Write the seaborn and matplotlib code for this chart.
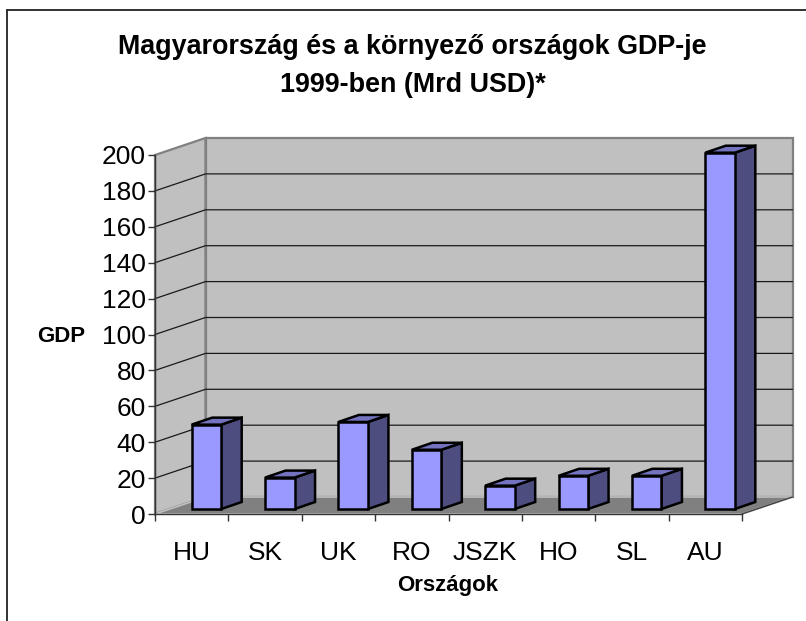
import matplotlib
matplotlib.use("Agg")
import matplotlib.pyplot as plt
from matplotlib.patches import Polygon, Rectangle
import pandas as pd
import seaborn as sns

categories = ["HU", "SK", "UK", "RO", "JSZK", "HO", "SL", "AU"]
gdp_values = [47, 17.5, 48.5, 33, 13, 18.5, 18.5, 198.5]
y_ticks = list(range(0, 201, 20))

title_lines = ["Magyarország és a környező országok GDP-je", "1999-ben (Mrd USD)*"]
x_label = "Országok"
y_label = "GDP"

sns.set_theme(style="white")
plt.rcParams["font.family"] = ["Liberation Sans", "DejaVu Sans"]
plt.rcParams["text.color"] = "black"
plt.rcParams["ytick.labelcolor"] = "black"

W, H = 806, 621
FRONT_L, FRONT_R, FRONT_T, FRONT_B = 155, 742, 155, 514
DEPTH_X, DEPTH_Y = 50.5, 17
BAR_SHIFT_X, BAR_SHIFT_Y = 14.75, 5
BAR_DEPTH_X, BAR_DEPTH_Y = 20.5, 7
WALL, FLOOR, EDGE = "#C0C0C0", "#808080", "#808080"
FACE, SIDE, TOP = "#9999FF", "#4D4D80", "#7373BF"


def axes_rect(left, right, top, bottom):
    return [left / W, 1 - bottom / H, (right - left) / W, (bottom - top) / H]


fig = plt.figure(figsize=(W / 100, H / 100), dpi=100, facecolor="white")
ax = fig.add_axes(axes_rect(FRONT_L, FRONT_R, FRONT_T, FRONT_B))
ax.set_facecolor("none")
ax.set_xlim(-0.5, len(categories) - 0.5)
ax.set_ylim(0, y_ticks[-1])

ux = (FRONT_R - FRONT_L) / len(categories)
uy = (FRONT_B - FRONT_T) / y_ticks[-1]
dx, dy = DEPTH_X / ux, DEPTH_Y / uy
x0, x1 = -0.5, len(categories) - 0.5
ymax = y_ticks[-1]

# Walls and floor
ax.add_patch(Polygon([(x0, 0), (x0 + dx, dy), (x0 + dx, ymax + dy), (x0, ymax)],
                     fc=WALL, ec=EDGE, lw=1.6, clip_on=False, zorder=1))
ax.add_patch(Rectangle((x0 + dx, dy), x1 - x0, ymax, fc=WALL, ec=EDGE, lw=1.6,
                       clip_on=False, zorder=1))
ax.add_patch(Polygon([(x0, 0), (x1, 0), (x1 + dx, dy), (x0 + dx, dy)],
                     fc=FLOOR, ec=WALL, lw=1.2, clip_on=False, zorder=2))
for v in y_ticks[1:-1]:
    ax.plot([x0, x0 + dx, x1 + dx], [v, v + dy, v + dy], color="#1a1a1a", lw=0.9,
            clip_on=False, zorder=3, solid_joinstyle="miter")
ax.plot([x1, x1 + dx], [0, dy], color="#404040", lw=1, clip_on=False, zorder=3)

# Axes
for s in ("top", "right"):
    ax.spines[s].set_visible(False)
for s in ("left", "bottom"):
    ax.spines[s].set_color("#333333")
    ax.spines[s].set_linewidth(1)
    ax.spines[s].set_zorder(6)
ax.set_yticks(y_ticks)
ax.set_xticks([i - 0.5 for i in range(len(categories) + 1)])
ax.set_xticklabels([])
ax.tick_params(axis="both", which="both", length=5, width=1, color="#333333",
               bottom=True, left=True)
ax.tick_params(axis="y", labelsize=19, pad=1.5, labelcolor="black")
ax.set_axisbelow(False)

for i, c in enumerate(categories):
    ax.annotate(c, (i, 0), xytext=(0, -26 * 0.72 - 0.5), textcoords="offset points", ha="center",
                va="top", fontsize=19, color="black")

# Bars: the front faces sit part-way into the depth of the floor
bar_ax = fig.add_axes(axes_rect(FRONT_L + BAR_SHIFT_X, FRONT_R + BAR_SHIFT_X,
                                FRONT_T - BAR_SHIFT_Y, FRONT_B - BAR_SHIFT_Y))
bar_ax.set_facecolor("none")
df = pd.DataFrame({"country": categories, "gdp": gdp_values})
sns.barplot(data=df, x="country", y="gdp", ax=bar_ax, color=FACE, saturation=1,
            width=29.5 / ux, edgecolor="black", linewidth=1.8, zorder=5)
bar_ax.set_xlim(x0, x1)
bar_ax.set_ylim(0, ymax)
bar_ax.axis("off")

bdx, bdy = BAR_DEPTH_X / ux, BAR_DEPTH_Y / uy
for p in list(bar_ax.patches):
    l, b, w, h = p.get_x(), p.get_y(), p.get_width(), p.get_height()
    r, t = l + w, b + h
    style = dict(ec="black", lw=1.8, clip_on=False, zorder=4, joinstyle="miter")
    bar_ax.add_patch(Polygon([(r, b), (r + bdx, b + bdy), (r + bdx, t + bdy), (r, t)], fc=SIDE, **style))
    bar_ax.add_patch(Polygon([(l, t), (r, t), (r + bdx, t + bdy), (l + bdx, t + bdy)], fc=TOP, **style))
    p.set_clip_on(False)

# Chart frame and texts
fig.add_artist(plt.Line2D([7 / W, 7 / W], [0, 1 - 10 / H], color="#222222", lw=1.3))
fig.add_artist(plt.Line2D([7 / W, 1], [1 - 10 / H, 1 - 10 / H], color="#222222", lw=1.3))
for line, yc in zip(title_lines, (47, 85)):
    fig.text(412.5 / W, 1 - yc / H, line, ha="center", va="center", fontsize=19.4,
             fontweight="bold", color="black")
fig.text(448 / W, 1 - 586 / H, x_label, ha="center", va="center", fontsize=16, fontweight="bold", color="black")
fig.text(61.5 / W, 1 - 336 / H, y_label, ha="center", va="center", fontsize=16, fontweight="bold", color="black")

fig.savefig("out.png", dpi=100, facecolor="white")
